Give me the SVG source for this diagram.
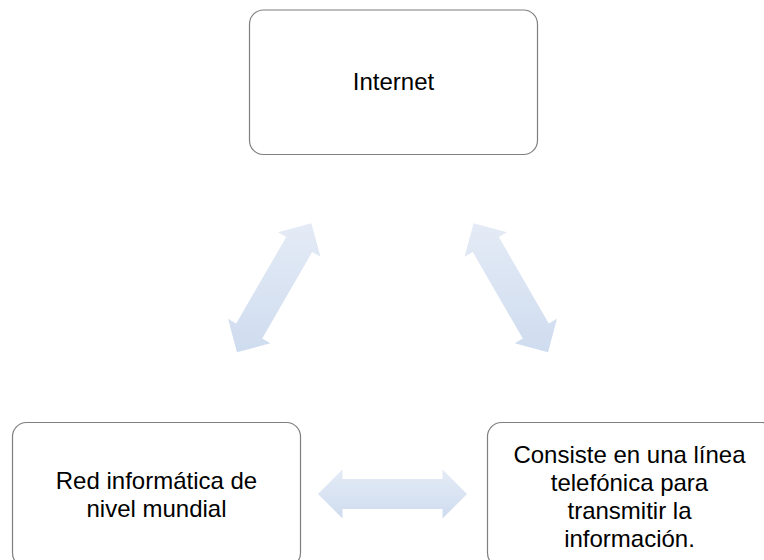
<svg xmlns="http://www.w3.org/2000/svg" width="764" height="560" viewBox="0 0 764 560">
<style>
.box{fill:#ffffff;stroke:#7f7f7f;stroke-width:1.2}
.lbl{font-family:"Liberation Sans",Arial,sans-serif;font-size:24px;fill:#000000;text-anchor:middle}
.arr{fill:url(#g)}
</style>
<defs>
<linearGradient id="g" x1="0" y1="0" x2="0" y2="1">
<stop offset="0" stop-color="#e4ebf6"/>
<stop offset="1" stop-color="#cfdcef"/>
</linearGradient>
</defs>
<rect width="764" height="560" fill="#ffffff"/>
<g id="connectors">
<polygon class="arr" points="236.95,352.32 227.98,318.85 236.21,323.6 286.21,237.0 277.98,232.25 311.45,223.28 320.42,256.75 312.19,252.0 262.19,338.6 270.42,343.35"/>
<polygon class="arr" points="548.05,352.32 557.02,318.85 548.79,323.6 498.79,237.0 507.02,232.25 473.55,223.28 464.58,256.75 472.81,252.0 522.81,338.6 514.58,343.35"/>
<polygon class="arr" points="318,494 342.5,469.5 342.5,479 442.5,479 442.5,469.5 467,494 442.5,518.5 442.5,509 342.5,509 342.5,518.5"/>
</g>
<g id="node-internet">
<rect class="box" x="249.5" y="10" width="288" height="144.5" rx="14" ry="14"/>
<text class="lbl" x="393.5" y="90">Internet</text>
</g>
<g id="node-red">
<rect class="box" x="12.5" y="422.5" width="288" height="144.5" rx="14" ry="14"/>
<text class="lbl" x="156.5" y="489">Red informática de</text>
<text class="lbl" x="156.5" y="517">nivel mundial</text>
</g>
<g id="node-consiste">
<rect class="box" x="487.5" y="422.5" width="288" height="144.5" rx="14" ry="14"/>
<text class="lbl" x="629.5" y="463">Consiste en una línea</text>
<text class="lbl" x="629.5" y="491">telefónica para</text>
<text class="lbl" x="629.5" y="519">transmitir la</text>
<text class="lbl" x="629.5" y="547">información.</text>
</g>
</svg>
